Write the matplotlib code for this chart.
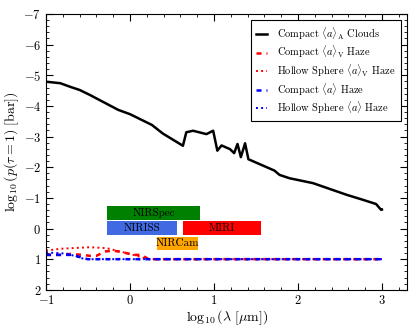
import numpy as np
import matplotlib
matplotlib.use("Agg")
import matplotlib.pyplot as plt

plt.rcParams["font.family"] = "serif"
plt.rcParams["font.serif"] = ["cmr10", "DejaVu Serif"]
plt.rcParams["mathtext.fontset"] = "cm"
plt.rcParams["axes.formatter.use_mathtext"] = True
plt.rcParams["axes.unicode_minus"] = True

# compact <a>_A clouds (log10 lambda, log10 p)
cloud_x = [-1.0, -0.83, -0.71, -0.6, -0.48, -0.14, 0.0, 0.26, 0.39, 0.63,
           0.67, 0.75, 0.91, 0.99, 1.04, 1.09, 1.19, 1.24, 1.28, 1.32,
           1.37, 1.41, 1.72, 1.78, 1.90, 2.18, 2.58, 2.77, 2.93, 2.99, 3.0]
cloud_y = [-4.79, -4.74, -4.62, -4.52, -4.36, -3.87, -3.73, -3.38, -3.10, -2.70,
           -3.14, -3.19, -3.08, -3.19, -2.54, -2.71, -2.59, -2.46, -2.76, -2.33,
           -2.78, -2.26, -1.89, -1.75, -1.64, -1.48, -1.10, -0.94, -0.80, -0.61, -0.62]

# compact <a>_V haze
cv_x = [-1.0, -0.83, -0.71, -0.56, -0.48, -0.40, -0.30, -0.20, -0.08, 0.04, 0.12, 0.18, 0.22, 3.0]
cv_y = [0.86, 0.86, 0.83, 0.86, 0.89, 0.89, 0.75, 0.72, 0.78, 0.86, 0.86, 0.93, 1.0, 1.0]

# hollow sphere <a>_V haze
hv_x = [-1.0, -0.83, -0.48, -0.28, -0.16, -0.04, 0.08, 0.18, 0.22, 3.0]
hv_y = [0.72, 0.66, 0.61, 0.64, 0.72, 0.80, 0.89, 0.97, 1.0, 1.0]

# compact <a> haze
c_x = [-1.0, -0.67, -0.56, -0.5, 3.0]
c_y = [0.86, 0.86, 0.97, 1.0, 1.0]

# hollow sphere <a> haze
h_x = [-1.0, -0.75, -0.56, -0.5, 3.0]
h_y = [0.78, 0.82, 0.98, 1.0, 1.0]

# JWST instrument ranges (log10 lambda), row centre
inst_names = ["NIRSpec", "NIRISS", "MIRI", "NIRCam"]
inst_lo = [-0.27, -0.27, 0.63, 0.32]
inst_hi = [0.83, 0.56, 1.56, 0.81]
inst_row = [-0.51, -0.01, -0.01, 0.49]
inst_col = ["green", "royalblue", "red", "orange"]

fig = plt.figure(figsize=(4.15, 3.32), dpi=100)
ax = fig.add_axes([0.111, 0.127, 0.870, 0.831])

for name, lo, hi, row, col in zip(inst_names, inst_lo, inst_hi, inst_row, inst_col):
    ax.barh(row, hi - lo, left=lo, height=0.45, color=col, edgecolor="none")
    ax.text((lo + hi) / 2, row, name, ha="center", va="center", fontsize=8)

ax.plot(cloud_x, cloud_y, color="k", lw=1.8, label=r"Compact $\langle a\rangle_{\rm A}$ Clouds")
ax.plot(cv_x, cv_y, color="r", ls="--", dashes=(2, 2), lw=1.8,
        label=r"Compact $\langle a\rangle_{\rm V}$ Haze")
ax.plot(hv_x, hv_y, color="r", ls=":", lw=1.4, label=r"Hollow Sphere $\langle a\rangle_{\rm V}$ Haze")
ax.plot(c_x, c_y, color="b", ls="--", dashes=(2, 2), lw=1.8,
        label=r"Compact $\langle a\rangle$ Haze")
ax.plot(h_x, h_y, color="b", ls=":", lw=1.4, label=r"Hollow Sphere $\langle a\rangle$ Haze")

ax.set_xlim(-1, 3.3)
ax.set_ylim(2, -7)
ax.set_xticks([-1, 0, 1, 2, 3])
ax.set_yticks(np.arange(-7, 3))
ax.minorticks_on()
ax.tick_params(which="both", direction="in", top=True, right=True, labelsize=9)
ax.tick_params(which="major", length=5)
ax.tick_params(which="minor", length=2.5)
ax.tick_params(axis="x", pad=3)

ax.set_xlabel(r"$\log_{10}(\lambda\ [\mu{\rm m}])$", fontsize=10, labelpad=1)
ax.set_ylabel(r"$\log_{10}(p(\tau=1)\ [{\rm bar}])$", fontsize=10, labelpad=2)

leg = ax.legend(loc="upper right", fontsize=7.5, handlelength=1.0, fancybox=False,
                edgecolor="k", framealpha=1, borderpad=0.5, labelspacing=0.2,
                handletextpad=1.0, borderaxespad=0.6)
leg.get_frame().set_linewidth(0.8)

fig.savefig("out.png", dpi=100)
